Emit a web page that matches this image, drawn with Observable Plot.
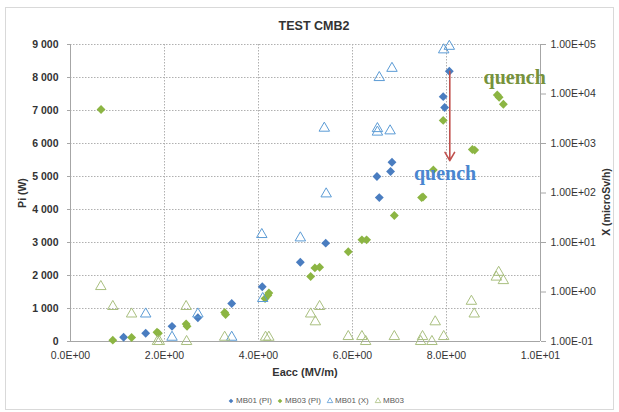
<!DOCTYPE html>
<html><head><meta charset="utf-8">
<script src="https://cdn.jsdelivr.net/npm/d3@7"></script>
<script src="https://cdn.jsdelivr.net/npm/@observablehq/plot@0.6"></script>
<style>
body{margin:0;background:#fff;}
#chart{position:relative;width:619px;height:412px;}
#chart svg{position:absolute;left:0;top:0;}
</style></head><body><div id="chart"></div>
<script>
// ---- data ----
const mb01PiE = [1.13,1.60,2.16,2.71,3.43,4.08,4.89,5.43,6.52,6.57,6.81,6.84,7.93,7.96,8.06];
const mb01Pi  = [130,250,460,720,1150,1660,2400,2980,5000,4360,5150,5430,7420,7090,8190];
const mb03PiE = [0.65,0.90,1.30,1.84,1.87,2.46,2.48,3.28,3.30,4.14,4.20,4.22,5.11,5.20,5.30,5.91,6.20,6.30,6.89,7.47,7.50,7.72,7.93,8.55,8.60,9.08,9.12,9.21];
const mb03Pi  = [7030,40,120,280,250,530,460,880,820,1300,1400,1470,1970,2230,2250,2720,3080,3080,3820,4360,4380,5200,6700,5820,5800,7470,7400,7190];
const mb01XE  = [1.60,2.16,2.71,3.43,4.07,4.09,4.89,5.40,5.44,6.53,6.53,6.57,6.80,6.84,7.94,8.06];
const mb01X   = [0.36,0.122,0.36,0.122,14.5,0.74,12.4,2040,96,2000,1700,21500,1800,33000,78000,92000];
const mb03XE  = [0.645,0.90,1.30,1.85,1.89,2.46,2.47,3.28,4.15,4.22,5.11,5.21,5.30,5.91,6.20,6.28,6.89,7.45,7.49,7.69,7.76,7.94,8.53,8.59,9.06,9.11,9.21];
const mb03X   = [1.29,0.51,0.36,0.10,0.10,0.51,0.10,0.122,0.122,0.122,0.36,0.25,0.51,0.126,0.126,0.10,0.126,0.10,0.126,0.10,0.25,0.126,0.65,0.36,2.0,2.5,1.7];
const xTicks  = [0,2,4,6,8,10];
const yTicks  = [0,1000,2000,3000,4000,5000,6000,7000,8000,9000];
const y2Ticks = [0.1,1,10,100,1000,10000,100000];
const seriesNames = ["MB01 (PI)","MB03 (PI)","MB01 (X)","MB03"];
const quenchText = ["quench","quench"];
const quenchE  = [9.45,7.97];
const quenchPi = [8010,5090];
const arrowE = [8.07], arrowFrom = [8190], arrowTo = [5480];

// ---- styles ----
const C01 = "#4a7dc0", C03 = "#8cb543", C01X = "#5b9bd5", C03X = "#a9bf7f";
const gridColor = "#b0b0b0", axisColor = "#a6a6a6";
const FONT = "'Liberation Sans', Arial, sans-serif";

const rows = (xs, ys) => xs.map((x, i) => ({x, y: ys[i]}));
const fmtE = (d, p) => { const [m, e] = d.toExponential(p).split("e"); return m + "E" + (e[0] === "-" ? "-" : "+") + e.slice(1).padStart(2, "0"); };
const loc = d3.formatLocale({decimal: ".", thousands: " ", grouping: [3], currency: ["", ""]});
const fmtPi = loc.format(",");

const W = 619, H = 412;
const margins = {marginLeft: 70, marginRight: 79, marginTop: 44, marginBottom: 71};

const base = Plot.plot({
  width: W, height: H, ...margins,
  style: {fontFamily: FONT, fontSize: "10.5px", background: "#fff", color: "#333"},
  x: {domain: [0, 10]},
  y: {domain: [0, 9000]},
  marks: [
    Plot.ruleY(yTicks.slice(1), {stroke: gridColor, strokeDasharray: "1.5,1.5"}),
    Plot.ruleX(xTicks.slice(1, -1), {stroke: gridColor, strokeDasharray: "1.5,1.5"}),
    Plot.ruleX([0, 10], {stroke: axisColor}),
    Plot.ruleY([0], {stroke: axisColor}),
    Plot.axisY({ticks: yTicks, tickFormat: fmtPi, tickSize: 3, tickPadding: 9, label: null, fontWeight: "bold", stroke: axisColor, fontSize: 10.5}),
    Plot.axisX({ticks: xTicks, tickFormat: d => fmtE(d, 1), tickSize: 0, tickPadding: 10, label: null}),
    Plot.dot(rows(mb01PiE, mb01Pi), {x: "x", y: "y", symbol: "diamond2", r: 4, fill: C01, stroke: "none"}),
    Plot.dot(rows(mb03PiE, mb03Pi), {x: "x", y: "y", symbol: "diamond2", r: 4, fill: C03, stroke: "none"}),
    Plot.arrow(arrowE.map((e, i) => ({x: e, y1: arrowFrom[i], y2: arrowTo[i]})), {x1: "x", y1: "y1", x2: "x", y2: "y2", stroke: "#c0504d", strokeWidth: 1.6, headLength: 9}),
    Plot.text(quenchText.map((t, i) => ({t, x: quenchE[i], y: quenchPi[i], c: i === 0 ? "#76923c" : "#4a86d0"})),
      {x: "x", y: "y", text: "t", fill: "c", fontSize: 20, fontWeight: "bold", fontFamily: "'Liberation Serif', 'DejaVu Serif', serif"})
  ]
});

const over = Plot.plot({
  width: W, height: H, ...margins,
  style: {fontFamily: FONT, fontSize: "10.5px", background: "transparent", color: "#333"},
  x: {domain: [0, 10], axis: null},
  y: {type: "log", domain: [0.1, 100000]},
  marks: [
    Plot.axisY({anchor: "right", ticks: y2Ticks, tickFormat: d => fmtE(d, 2), tickSize: 5, tickPadding: 5, label: null, stroke: axisColor, fontSize: 10.5}),
    Plot.dot(rows(mb01XE, mb01X), {x: "x", y: "y", symbol: "triangle2", r: 5, fill: "none", stroke: C01X, strokeWidth: 1}),
    Plot.dot(rows(mb03XE, mb03X), {x: "x", y: "y", symbol: "triangle2", r: 5, fill: "none", stroke: C03X, strokeWidth: 1})
  ]
});

const chart = document.getElementById("chart");
chart.appendChild(base);
chart.appendChild(over);

// ---- titles, axis labels, frame, legend ----
const svg = d3.select(base);
svg.insert("rect", ":first-child").attr("x", 5.5).attr("y", 7.5).attr("width", 608).attr("height", 402)
  .attr("fill", "#fff").attr("stroke", "#d9d9d9");
const lab = (x, y, t, size, rot) => svg.append("text").attr("transform", `translate(${x},${y})` + (rot ? ` rotate(${rot})` : ""))
  .attr("text-anchor", "middle").attr("dominant-baseline", "middle").attr("font-family", FONT)
  .attr("font-size", size).attr("font-weight", "bold").attr("fill", "#333").text(t);
lab(314, 27, "TEST CMB2", 12.5);
lab(305, 373, "Eacc (MV/m)", 11);
lab(23, 193, "Pi (W)", 10.5, -90);
lab(607, 202, "X (microSv/h)", 10.5, -90);

const legX = [231, 280, 330, 378];
const legSym = [d3.symbolDiamond2, d3.symbolDiamond2, d3.symbolTriangle2, d3.symbolTriangle2];
const legFill = [C01, C03, "none", "none"];
const legStroke = ["none", "none", C01X, C03X];
const lg = svg.append("g").attr("font-family", FONT).attr("font-size", 8).attr("fill", "#595959").attr("text-anchor", "start");
seriesNames.forEach((n, i) => {
  lg.append("path").attr("d", d3.symbol(legSym[i], i < 2 ? 14 : 22)()).attr("transform", `translate(${legX[i]},401)`)
    .attr("fill", legFill[i]).attr("stroke", legStroke[i]).attr("stroke-width", 0.8);
  lg.append("text").attr("x", legX[i] + 5).attr("y", 401).attr("dominant-baseline", "middle")
    .attr("text-anchor", "start").text(n);
});
</script></body></html>
